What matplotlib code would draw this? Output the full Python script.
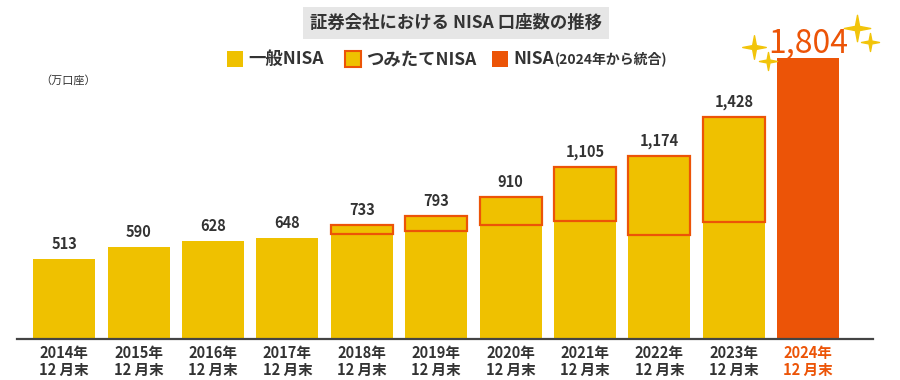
import matplotlib
matplotlib.use('Agg')
import matplotlib.pyplot as plt
from matplotlib.path import Path
from matplotlib.patches import Rectangle

plt.rcParams['font.family'] = ['Noto Sans CJK JP', 'DejaVu Sans']

# --- data (万口座) ---
years = ['2014年\n12 月末', '2015年\n12 月末', '2016年\n12 月末', '2017年\n12 月末',
         '2018年\n12 月末', '2019年\n12 月末', '2020年\n12 月末', '2021年\n12 月末',
         '2022年\n12 月末', '2023年\n12 月末', '2024年\n12 月末']
totals = [513, 590, 628, 648, 733, 793, 910, 1105, 1174, 1428, 1804]
ippan = [513, 590, 628, 648, 675, 695, 733, 760, 672, 750]
new_nisa = 1804

YELLOW = '#EFC100'
ORANGE = '#EC5407'
DARK = '#333333'

fig = plt.figure(figsize=(9, 3.8), dpi=100)
ax = fig.add_axes([17 / 900, 1 - 339.3 / 380, 856 / 900, 299.3 / 380])

x = list(range(len(years)))
w = 0.833
ax.bar(x[:10], ippan, width=w, color=YELLOW, linewidth=0)
# つみたてNISA only from 2018
ts_x = x[4:10]
ts_h = [totals[i] - ippan[i] for i in ts_x]
ts_b = [ippan[i] for i in ts_x]
ax.bar(ts_x, ts_h, bottom=ts_b, width=w, color=YELLOW, edgecolor=ORANGE, linewidth=1.6)
ax.bar(x[10], new_nisa, width=w, color=ORANGE, linewidth=0)

for i, v in enumerate(totals[:10]):
    ax.annotate(f'{v:,}', (i, v), xytext=(0, 5), textcoords='offset points',
                ha='center', va='bottom', fontsize=10.5, fontweight='bold', color=DARK)
ax.annotate(f'{totals[10]:,}', (10, totals[10]), xytext=(0, -1), textcoords='offset points',
            ha='center', va='bottom', fontsize=23, color=ORANGE)

ax.set_xlim(-0.635, 10.87)
ax.set_ylim(0, 299.3 / 0.1559)
for s in ['top', 'right', 'left']:
    ax.spines[s].set_visible(False)
ax.spines['bottom'].set_color('#444444')
ax.spines['bottom'].set_linewidth(1.6)
ax.set_yticks([])
ax.set_xticks(x)
ax.set_xticklabels(years, fontsize=10.5, fontweight='bold', color=DARK, linespacing=1.1)
ax.tick_params(axis='x', length=0, pad=4)
ax.get_xticklabels()[-1].set_color(ORANGE)

# title with gray box
fig.text(0.5067, 1 - 23 / 380, '証券会社における NISA 口座数の推移', ha='center', va='center',
         fontsize=12.5, fontweight='bold', color=DARK,
         bbox=dict(boxstyle='square,pad=0.4', fc='#E6E6E6', ec='none'))

# legend
leg_y = 1 - 59 / 380
sq = 16
items = [(227, YELLOW, None, '一般NISA'),
         (345, YELLOW, ORANGE, 'つみたてNISA'),
         (492, ORANGE, None, 'NISA')]
for px, fc, ec, lab in items:
    fig.add_artist(Rectangle((px / 900, leg_y - sq / 2 / 380), sq / 900, sq / 380,
                             transform=fig.transFigure, fc=fc,
                             ec=ec if ec else 'none', lw=1.5))
    fig.text((px + 21) / 900, leg_y, lab, ha='left', va='center',
             fontsize=12.5, fontweight='bold', color=DARK)
fig.text(555 / 900, leg_y, '(2024年から統合)', ha='left', va='center',
         fontsize=10, fontweight='bold', color=DARK)

fig.text(40 / 900, 1 - 80 / 380, '（万口座）', ha='left', va='center', fontsize=8, color=DARK)

# sparkles
a = 0.16
star = Path([(0, 1), (a, a), (1, 0), (a, -a), (0, -1), (-a, -a), (-1, 0), (-a, a), (0, 1)],
            [Path.MOVETO] + [Path.LINETO] * 7 + [Path.CLOSEPOLY])
sparkles = [(754, 47, 17), (768, 61, 13), (857, 28, 19), (870, 42, 13)]
for sx, sy, ms in sparkles:
    fig.add_artist(plt.Line2D([sx / 900], [1 - sy / 380], marker=star, markersize=ms,
                              color='#F2C40A', linestyle='none', transform=fig.transFigure))

fig.savefig('out.png', dpi=100)
